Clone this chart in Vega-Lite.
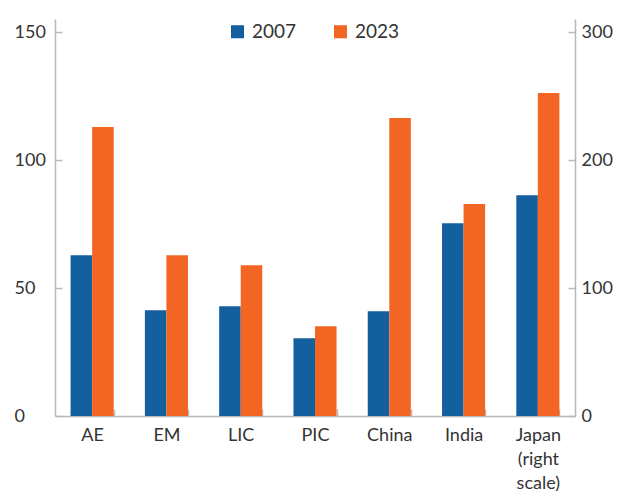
{
  "$schema": "https://vega.github.io/schema/vega-lite/v6.json",
  "width": 520,
  "height": 397,
  "autosize": {"type": "none"},
  "padding": {"left": 55, "top": 19, "right": 42, "bottom": 75},
  "config": {
    "font": "Lato",
    "view": {"stroke": null},
    "axis": {
      "grid": false,
      "domainColor": "#b8b8b8",
      "domainWidth": 1.5,
      "tickColor": "#b8b8b8",
      "tickWidth": 1.5,
      "labelColor": "#333333",
      "labelFontSize": 18,
      "title": null
    }
  },
  "datasets": {
    "leftScale": [
      {"region": "AE", "year": "2007", "value": 62.8},
      {"region": "AE", "year": "2023", "value": 112.9},
      {"region": "EM", "year": "2007", "value": 41.3},
      {"region": "EM", "year": "2023", "value": 62.8},
      {"region": "LIC", "year": "2007", "value": 42.9},
      {"region": "LIC", "year": "2023", "value": 58.9},
      {"region": "PIC", "year": "2007", "value": 30.4},
      {"region": "PIC", "year": "2023", "value": 35.1},
      {"region": "China", "year": "2007", "value": 40.9},
      {"region": "China", "year": "2023", "value": 116.4},
      {"region": "India", "year": "2007", "value": 75.3},
      {"region": "India", "year": "2023", "value": 82.8}
    ],
    "rightScale": [
      {"region": "Japan", "year": "2007", "value": 172.5},
      {"region": "Japan", "year": "2023", "value": 252.3}
    ]
  },
  "encoding": {
    "x": {
      "field": "region",
      "type": "nominal",
      "scale": {
        "domain": ["AE", "EM", "LIC", "PIC", "China", "India", "Japan"],
        "paddingInner": 0.42,
        "paddingOuter": 0.21
      },
      "axis": {
        "labelAngle": 0,
        "tickBand": "extent",
        "tickSize": -7,
        "labelPadding": 17,
        "labelLineHeight": 24,
        "labelExpr": "datum.value == 'Japan' ? ['Japan', '(right', 'scale)'] : datum.label"
      }
    },
    "xOffset": {
      "field": "year",
      "type": "nominal",
      "scale": {"paddingInner": 0, "paddingOuter": 0}
    },
    "color": {
      "field": "year",
      "type": "nominal",
      "scale": {"domain": ["2007", "2023"], "range": ["#14609F", "#F26522"]},
      "legend": {
        "title": null,
        "orient": "none",
        "direction": "horizontal",
        "legendX": 173,
        "legendY": 3,
        "symbolType": "square",
        "symbolSize": 170,
        "symbolStrokeWidth": 0,
        "symbolOpacity": 1,
        "labelFontSize": 19,
        "labelColor": "#333333",
        "labelOffset": 5,
        "columnPadding": 34
      }
    }
  },
  "layer": [
    {
      "data": {"name": "leftScale"},
      "mark": {"type": "bar", "opacity": 1},
      "encoding": {
        "y": {
          "field": "value",
          "type": "quantitative",
          "scale": {"domain": [0, 155.1], "nice": false, "zero": true},
          "axis": {
            "orient": "left",
            "values": [0, 50, 100, 150],
            "tickSize": -7,
            "labelAlign": "left",
            "labelPadding": 48
          }
        }
      }
    },
    {
      "data": {"name": "rightScale"},
      "mark": {"type": "bar", "opacity": 1},
      "encoding": {
        "y": {
          "field": "value",
          "type": "quantitative",
          "scale": {"domain": [0, 310.2], "nice": false, "zero": true},
          "axis": {
            "orient": "right",
            "values": [0, 100, 200, 300],
            "tickSize": -7,
            "labelPadding": 13
          }
        }
      }
    }
  ],
  "resolve": {"scale": {"y": "independent"}}
}
